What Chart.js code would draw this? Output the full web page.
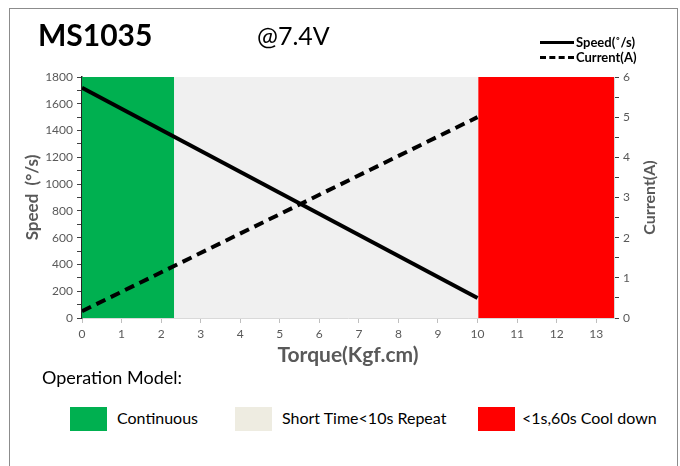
<!DOCTYPE html>
<html>
<head>
<meta charset="utf-8">
<script src="https://cdn.jsdelivr.net/npm/chart.js@4"></script>
<style>
  body { margin: 0; background: #fff; font-family: Lato, "Noto Sans", sans-serif; }
  #page { position: relative; width: 680px; height: 466px; overflow: hidden; }
  #frame { position: absolute; left: 9px; top: 8px; width: 667px; height: 470px; border: 1px solid #8c8c8c; }
  #chartBox { position: absolute; left: 0; top: 0; width: 680px; height: 380px; }
  .title { position: absolute; left: 38px; top: 16px; font-size: 30px; font-weight: bold; color: #000; }
  .volt { position: absolute; left: 257px; top: 20px; font-size: 25px; color: #000; }
  .lg { position: absolute; left: 540px; font-size: 13px; font-weight: bold; color: #000; display: flex; align-items: center; }
  .lg span.ln { display: inline-block; width: 34px; height: 0; border-top: 3.5px solid #000; margin-right: 2px; }
  .lg span.dash { border-top: 3.5px dashed #000; }
  .op { position: absolute; left: 42px; top: 366px; font-size: 18px; color: #000; }
  .sw { position: absolute; top: 407px; width: 37px; height: 24px; }
  .swt { position: absolute; top: 408px; font-size: 16px; color: #000; }
</style>
</head>
<body>
<div id="page">
  <div id="frame"></div>
  <div id="chartBox"><canvas id="torqueChart"></canvas></div>
  <div class="title">MS1035</div>
  <div class="volt">@7.4V</div>
  <div class="lg" style="top:34px"><span class="ln"></span>Speed(˚/s)</div>
  <div class="lg" style="top:49px"><span class="ln dash"></span>Current(A)</div>
  <div class="op">Operation Model:</div>
  <div id="modeLegend"></div>
</div>
<script>
// data
const torque = [0, 10];
const speed = [1720, 150];
const current = [0.17, 5.0];

const modeNames = ['Continuous', 'Short Time<10s Repeat', '<1s,60s Cool down'];
const modeStart = [0, 2.33, 10.02];
const modeEnd = [2.33, 10.02, 13.45];
const modeColors = ['#00b050', '#f0f0f0', '#ff0000'];
const modeSwatch = ['#00b050', '#eeece1', '#ff0000'];

const xTicks = [0, 1, 2, 3, 4, 5, 6, 7, 8, 9, 10, 11, 12, 13];

// bottom legend for the operation modes
const swLeft = [70, 235, 478];
const txtLeft = [117, 282, 522];
const legendBox = document.getElementById('modeLegend');
modeNames.forEach((name, i) => {
    const sw = document.createElement('div');
    sw.className = 'sw';
    sw.style.left = swLeft[i] + 'px';
    sw.style.background = modeSwatch[i];
    legendBox.appendChild(sw);
    const t = document.createElement('div');
    t.className = 'swt';
    t.style.left = txtLeft[i] + 'px';
    t.textContent = name;
    legendBox.appendChild(t);
});

const gray = '#595959';
const fontFam = 'Lato, "Noto Sans", sans-serif';
const tickFont = { family: fontFam, size: 12 };

// colour bands behind the lines
const modeBands = {
    id: 'modeBands',
    beforeDatasetsDraw(chart) {
        const { ctx, chartArea, scales } = chart;
        ctx.save();
        modeStart.forEach((s, i) => {
            const x1 = scales.x.getPixelForValue(s);
            const x2 = scales.x.getPixelForValue(modeEnd[i]);
            ctx.fillStyle = modeColors[i];
            ctx.fillRect(x1, chartArea.top, x2 - x1, chartArea.bottom - chartArea.top);
        });
        ctx.restore();
    }
};

// right axis title reads bottom-to-top like the left one
const rightTitle = {
    id: 'rightTitle',
    afterDraw(chart) {
        const { ctx, chartArea } = chart;
        ctx.save();
        ctx.translate(650, (chartArea.top + chartArea.bottom) / 2);
        ctx.rotate(-Math.PI / 2);
        ctx.font = 'bold 16px ' + fontFam;
        ctx.fillStyle = gray;
        ctx.textAlign = 'center';
        ctx.textBaseline = 'middle';
        ctx.fillText('Current(A)', 0, 0);
        ctx.restore();
    }
};

new Chart(document.getElementById('torqueChart').getContext('2d'), {
    type: 'line',
    data: {
        datasets: [{
            label: 'Speed(˚/s)',
            data: torque.map((t, i) => ({ x: t, y: speed[i] })),
            borderColor: '#000',
            borderWidth: 4,
            pointRadius: 0,
            fill: false,
            yAxisID: 'y'
        }, {
            label: 'Current(A)',
            data: torque.map((t, i) => ({ x: t, y: current[i] })),
            borderColor: '#000',
            borderWidth: 4,
            borderDash: [10, 6],
            pointRadius: 0,
            fill: false,
            yAxisID: 'y1'
        }]
    },
    options: {
        responsive: true,
        maintainAspectRatio: false,
        animation: false,
        layout: { padding: { top: 77, left: 0, right: 0, bottom: 0 } },
        plugins: {
            legend: { display: false },
            tooltip: { enabled: false }
        },
        scales: {
            x: {
                type: 'linear',
                min: 0,
                max: 13.45,
                afterFit: (s) => { s.height = 62; },
                afterBuildTicks: (s) => { s.ticks = xTicks.map(v => ({ value: v })); },
                ticks: { color: gray, font: tickFont, padding: 4 },
                grid: { drawOnChartArea: false, color: '#bfbfbf', tickLength: 5 },
                border: { color: '#d9d9d9' },
                title: {
                    display: true,
                    text: 'Torque(Kgf.cm)',
                    color: gray,
                    font: { family: fontFam, size: 21, weight: 'bold' },
                    padding: { top: 0, bottom: 12 }
                }
            },
            y: {
                position: 'left',
                min: 0,
                max: 1800,
                afterFit: (s) => { s.width = 82; },
                ticks: {
                    stepSize: 100,
                    autoSkip: false,
                    color: gray,
                    font: tickFont,
                    padding: 4,
                    callback: (v) => (v % 200 === 0 ? v : '')
                },
                grid: { drawOnChartArea: false, color: '#404040', tickLength: 5 },
                border: { color: '#262626', width: 1.5 },
                title: {
                    display: true,
                    text: 'Speed  (°/s)',
                    color: gray,
                    font: { family: fontFam, size: 17, weight: 'bold' },
                    padding: { top: 22, bottom: 0 }
                }
            },
            y1: {
                position: 'right',
                min: 0,
                max: 6,
                afterFit: (s) => { s.width = 66; },
                ticks: {
                    stepSize: 0.5,
                    autoSkip: false,
                    color: gray,
                    font: tickFont,
                    padding: 4,
                    callback: (v) => (Number.isInteger(v) ? v : '')
                },
                grid: { drawOnChartArea: false, color: '#404040', tickLength: 5 },
                border: { color: '#d9d9d9' }
            }
        }
    },
    plugins: [modeBands, rightTitle]
});
</script>
</body>
</html>
